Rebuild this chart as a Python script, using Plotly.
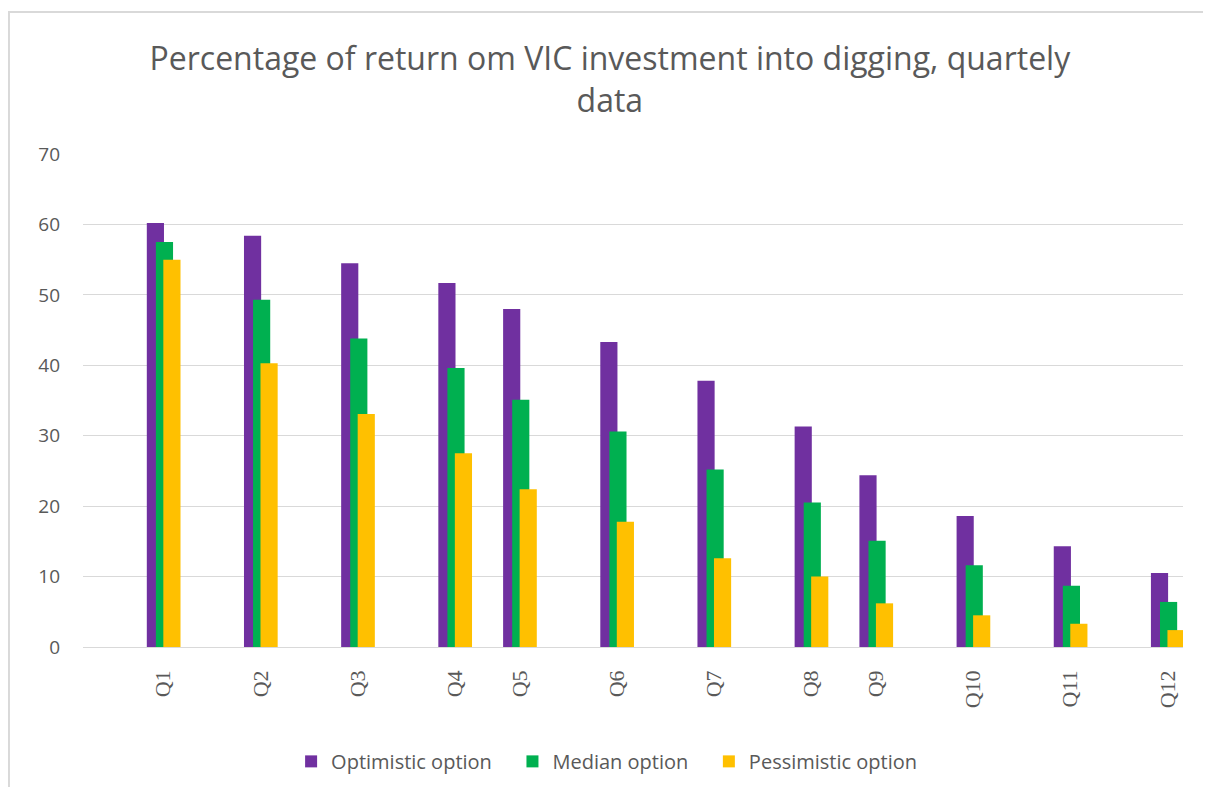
import plotly.graph_objects as go

quarters = ["Q1", "Q2", "Q3", "Q4", "Q5", "Q6", "Q7", "Q8", "Q9", "Q10", "Q11", "Q12"]
# time position of each quarter on the (date-like) axis, in months
month_offset = [0, 3, 6, 9, 11, 14, 17, 20, 22, 25, 28, 31]
optimistic = [60.2, 58.4, 54.5, 51.7, 48.0, 43.3, 37.8, 31.3, 24.4, 18.6, 14.3, 10.5]
median = [57.5, 49.3, 43.8, 39.6, 35.1, 30.6, 25.2, 20.5, 15.1, 11.6, 8.7, 6.4]
pessimistic = [55.0, 40.3, 33.1, 27.5, 22.4, 17.8, 12.6, 10.0, 6.2, 4.5, 3.3, 2.4]

pad = "\u00a0\u00a0\u00a0"
series = [
    ("Optimistic option", optimistic, "#7030A0", -0.51, pad),
    ("Median option", median, "#00B050", -0.23, pad),
    ("Pessimistic option", pessimistic, "#FFC000", 0.0, ""),
]

fig = go.Figure()
for name, vals, color, off, tail in series:
    fig.add_trace(go.Bar(
        x=month_offset, y=vals, name=name + tail,
        marker=dict(color=color, line=dict(width=0)),
        width=0.53, offset=off,
    ))

fig.update_layout(
    width=1211, height=787,
    barmode="overlay",
    paper_bgcolor="white", plot_bgcolor="white",
    margin=dict(l=75, r=36, t=146, b=148),
    title=dict(
        text="Percentage of return om VIC investment into digging, quartely<br>data",
        x=0.497, xanchor="center", xref="container", y=0.9206, yanchor="middle",
        font=dict(family="Open Sans", size=32, color="#595959"),
    ),
    legend=dict(
        orientation="h", x=0.476, xanchor="center", y=-0.232, yanchor="middle",
        font=dict(family="Open Sans", size=20, color="#595959"),
        itemwidth=30, tracegroupgap=0, traceorder="normal",
    ),
    showlegend=True,
)
fig.update_xaxes(
    range=[-2.48, 31.48],
    tickmode="array", tickvals=month_offset, ticktext=quarters,
    tickangle=-90, showgrid=False, zeroline=False, showline=False,
    ticks="", ticklen=0, ticklabelstandoff=18,
    tickfont=dict(family="Liberation Serif", size=22, color="#595959"),
)
fig.update_yaxes(
    range=[0, 70], dtick=10, showgrid=True, gridcolor="#d9d9d9", gridwidth=1,
    zeroline=True, zerolinecolor="#d9d9d9", zerolinewidth=1, showline=False,
    ticks="", ticklabelstandoff=22,
    tickfont=dict(family="Open Sans", size=19, color="#595959"),
)
fig.add_shape(
    type="rect", xref="paper", yref="paper",
    x0=-0.0673, x1=1.0236, y0=-0.35, y1=1.288,
    line=dict(color="#d9d9d9", width=2), fillcolor="rgba(0,0,0,0)", layer="below",
)
fig.write_html("out.html")
